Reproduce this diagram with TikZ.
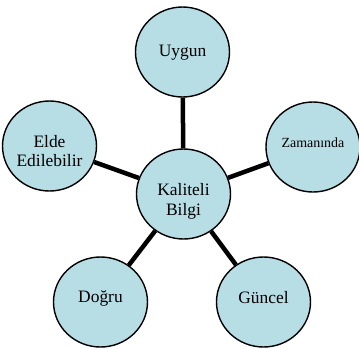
\documentclass[tikz,border=0pt]{standalone}
\usepackage{fontspec}
\setmainfont{Liberation Serif}
\usetikzlibrary{shapes.geometric}
\definecolor{bubblefill}{RGB}{183,221,229}
\tikzset{
  bubble/.style={ellipse, draw=black, line width=1.4bp, fill=bubblefill,
    minimum width=94bp, minimum height=90bp, inner sep=0pt},
  txt/.style={font=\fontsize{17.5}{20}\selectfont, align=center, inner sep=0pt},
  smalltxt/.style={font=\fontsize{14}{16}\selectfont, align=center, inner sep=0pt},
  spoke/.style={line width=4.5bp, black}
}
\begin{document}
\begin{tikzpicture}[x=1bp, y=-1bp]
  \useasboundingbox (0,0) rectangle (359,349);
  % hub and surrounding qualities
  \node[bubble, label={[txt, yshift=-7bp]center:{Kaliteli\\Bilgi}}] (hub) at (183.5,194) {};
  \node[bubble, label={[txt, yshift=-1bp]center:Uygun}] (uygun) at (182.5,52) {};
  \node[bubble, label={[smalltxt, yshift=4bp]center:Zamanında}] (zaman) at (313,147) {};
  \node[bubble, label={[txt, yshift=-5bp]center:{Elde\\Edilebilir}}] (elde) at (49.5,146) {};
  \node[bubble, label={[txt, yshift=4bp]center:Doğru}] (dogru) at (100.5,302) {};
  \node[bubble, label={[txt, yshift=4bp]center:Güncel}] (guncel) at (263.5,302) {};
  % spokes
  \draw[spoke] (hub) -- (uygun);
  \draw[spoke] (hub) -- (zaman);
  \draw[spoke] (hub) -- (elde);
  \draw[spoke] (hub) -- (dogru);
  \draw[spoke] (hub) -- (guncel);
\end{tikzpicture}
\end{document}
